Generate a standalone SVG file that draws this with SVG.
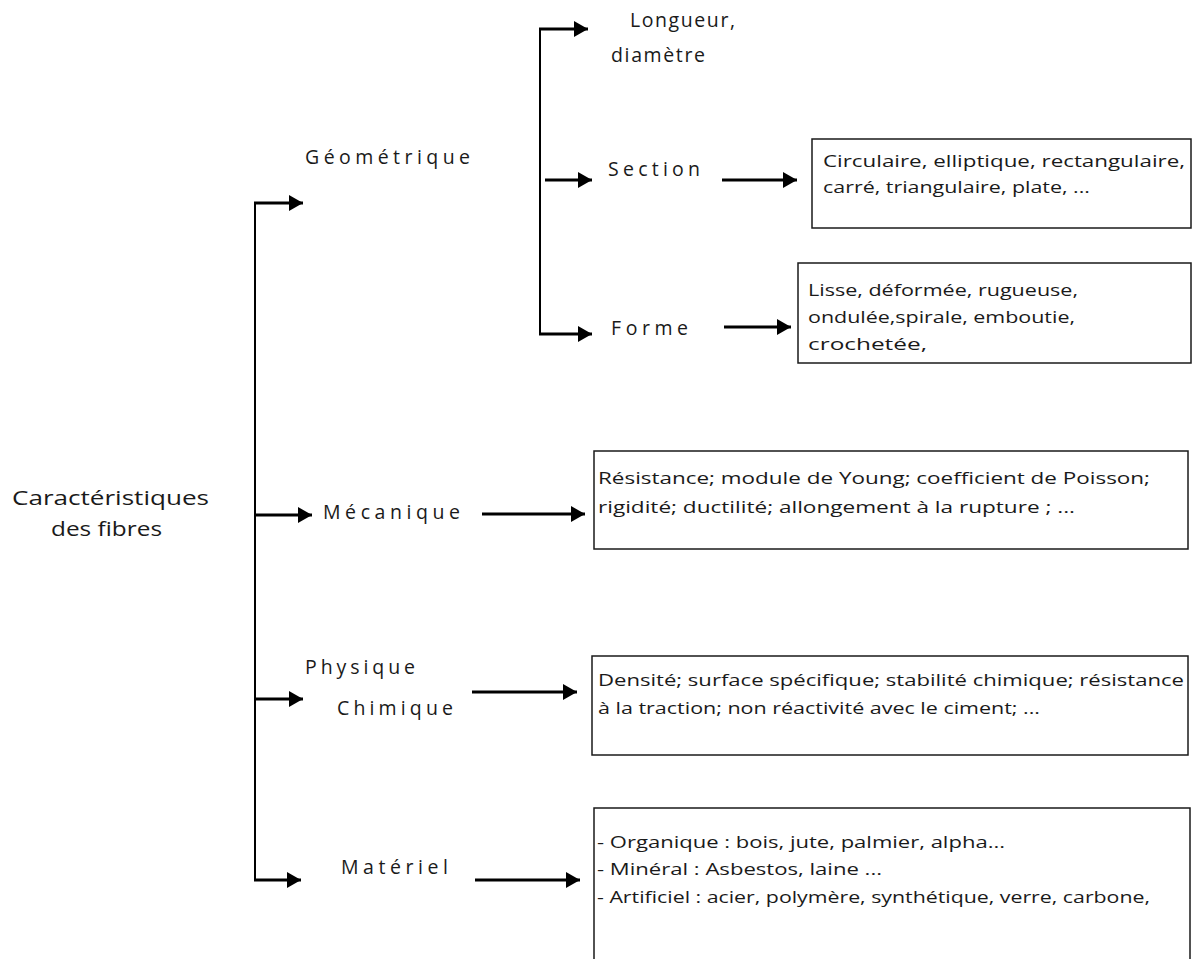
<svg xmlns="http://www.w3.org/2000/svg" width="1197" height="959" viewBox="0 0 1197 959">
  <style>
    .lbl { font-family: "Open Sans", "Liberation Sans", sans-serif; font-size: 19.5px; fill: #1a1a1a; }
    .root { font-family: "Open Sans", "Liberation Sans", sans-serif; font-size: 20px; fill: #1a1a1a; }
    .box { fill: #ffffff; stroke: #1a1a1a; stroke-width: 1.5; }
    .txt { font-family: "Open Sans", "Liberation Sans", sans-serif; font-size: 16px; fill: #1a1a1a; }
    .wire { fill: none; stroke: #000000; stroke-width: 2; }
    .arr { fill: none; stroke: #000000; stroke-width: 2.8; marker-end: url(#head); }
  </style>
  <defs>
    <marker id="head" markerUnits="userSpaceOnUse" markerWidth="15" markerHeight="16" refX="14" refY="8" orient="auto">
      <path d="M0,0 L14,8 L0,16 Z" fill="#000000"/>
    </marker>
  </defs>
  <rect width="1197" height="959" fill="#ffffff"/>

  <!-- connectors -->
  <g id="connectors">
    <!-- root spine -->
    <path class="wire" d="M255,203 V880"/>
    <path class="arr" d="M254,203 H303"/>
    <path class="arr" d="M255,515 H312"/>
    <path class="arr" d="M255,699 H303"/>
    <path class="arr" d="M254,880 H301"/>
    <!-- geometric spine -->
    <path class="wire" d="M540,29 V334"/>
    <path class="arr" d="M539,29 H588"/>
    <path class="arr" d="M545,180 H592"/>
    <path class="arr" d="M539,334 H592"/>
    <!-- label to box -->
    <path class="arr" d="M722,180 H797"/>
    <path class="arr" d="M724,327 H791"/>
    <path class="arr" d="M482,514 H585"/>
    <path class="arr" d="M472,692 H577"/>
    <path class="arr" d="M475,880 H580"/>
  </g>

  <g id="root">
    <text class="root" x="12" y="505" textLength="197" lengthAdjust="spacingAndGlyphs">Caractéristiques</text>
    <text class="root" x="51" y="536" textLength="111" lengthAdjust="spacingAndGlyphs">des fibres</text>
  </g>

  <g id="geometrique">
    <text class="lbl" x="305" y="164" textLength="165" lengthAdjust="spacing">Géométrique</text>
  </g>

  <g id="longueur">
    <text class="lbl" x="630" y="27" textLength="105" lengthAdjust="spacing">Longueur,</text>
    <text class="lbl" x="611" y="62" textLength="94" lengthAdjust="spacing">diamètre</text>
  </g>

  <g id="section">
    <text class="lbl" x="608" y="176" textLength="92" lengthAdjust="spacing">Section</text>
  </g>

  <g id="section-box">
    <rect class="box" x="812" y="139" width="379" height="89"/>
    <text class="txt" x="823" y="167" textLength="362" lengthAdjust="spacingAndGlyphs">Circulaire, elliptique, rectangulaire,</text>
    <text class="txt" x="823" y="193" textLength="267" lengthAdjust="spacingAndGlyphs">carré, triangulaire, plate, ...</text>
  </g>

  <g id="forme">
    <text class="lbl" x="611" y="335" textLength="77" lengthAdjust="spacing">Forme</text>
  </g>

  <g id="forme-box">
    <rect class="box" x="798" y="263" width="393" height="100"/>
    <text class="txt" x="808" y="296" textLength="270" lengthAdjust="spacingAndGlyphs">Lisse, déformée, rugueuse,</text>
    <text class="txt" x="808" y="323" textLength="267" lengthAdjust="spacingAndGlyphs">ondulée,spirale, emboutie,</text>
    <text class="txt" x="808" y="350" textLength="119" lengthAdjust="spacingAndGlyphs">crochetée,</text>
  </g>

  <g id="mecanique">
    <text class="lbl" x="323" y="519" textLength="137" lengthAdjust="spacing">Mécanique</text>
  </g>

  <g id="mecanique-box">
    <rect class="box" x="594" y="451" width="594" height="98"/>
    <text class="txt" x="598" y="484" textLength="552" lengthAdjust="spacingAndGlyphs">Résistance; module de Young; coefficient de Poisson;</text>
    <text class="txt" x="598" y="513" textLength="477" lengthAdjust="spacingAndGlyphs">rigidité; ductilité; allongement à la rupture ; ...</text>
  </g>

  <g id="physique">
    <text class="lbl" x="305" y="674" textLength="110" lengthAdjust="spacing">Physique</text>
    <text class="lbl" x="337" y="715" textLength="116" lengthAdjust="spacing">Chimique</text>
  </g>

  <g id="physique-box">
    <rect class="box" x="592" y="656" width="596" height="99"/>
    <text class="txt" x="598" y="686" textLength="586" lengthAdjust="spacingAndGlyphs">Densité; surface spécifique; stabilité chimique; résistance</text>
    <text class="txt" x="598" y="714" textLength="442" lengthAdjust="spacingAndGlyphs">à la traction; non réactivité avec le ciment; ...</text>
  </g>

  <g id="materiel">
    <text class="lbl" x="341" y="874" textLength="107" lengthAdjust="spacing">Matériel</text>
  </g>

  <g id="materiel-box">
    <rect class="box" x="594" y="808" width="596" height="170"/>
    <text class="txt" x="597" y="848" textLength="408" lengthAdjust="spacingAndGlyphs">- Organique : bois, jute, palmier, alpha...</text>
    <text class="txt" x="597" y="875" textLength="285" lengthAdjust="spacingAndGlyphs">- Minéral : Asbestos, laine ...</text>
    <text class="txt" x="597" y="903" textLength="553" lengthAdjust="spacingAndGlyphs">- Artificiel : acier, polymère, synthétique, verre, carbone,</text>
  </g>
</svg>
